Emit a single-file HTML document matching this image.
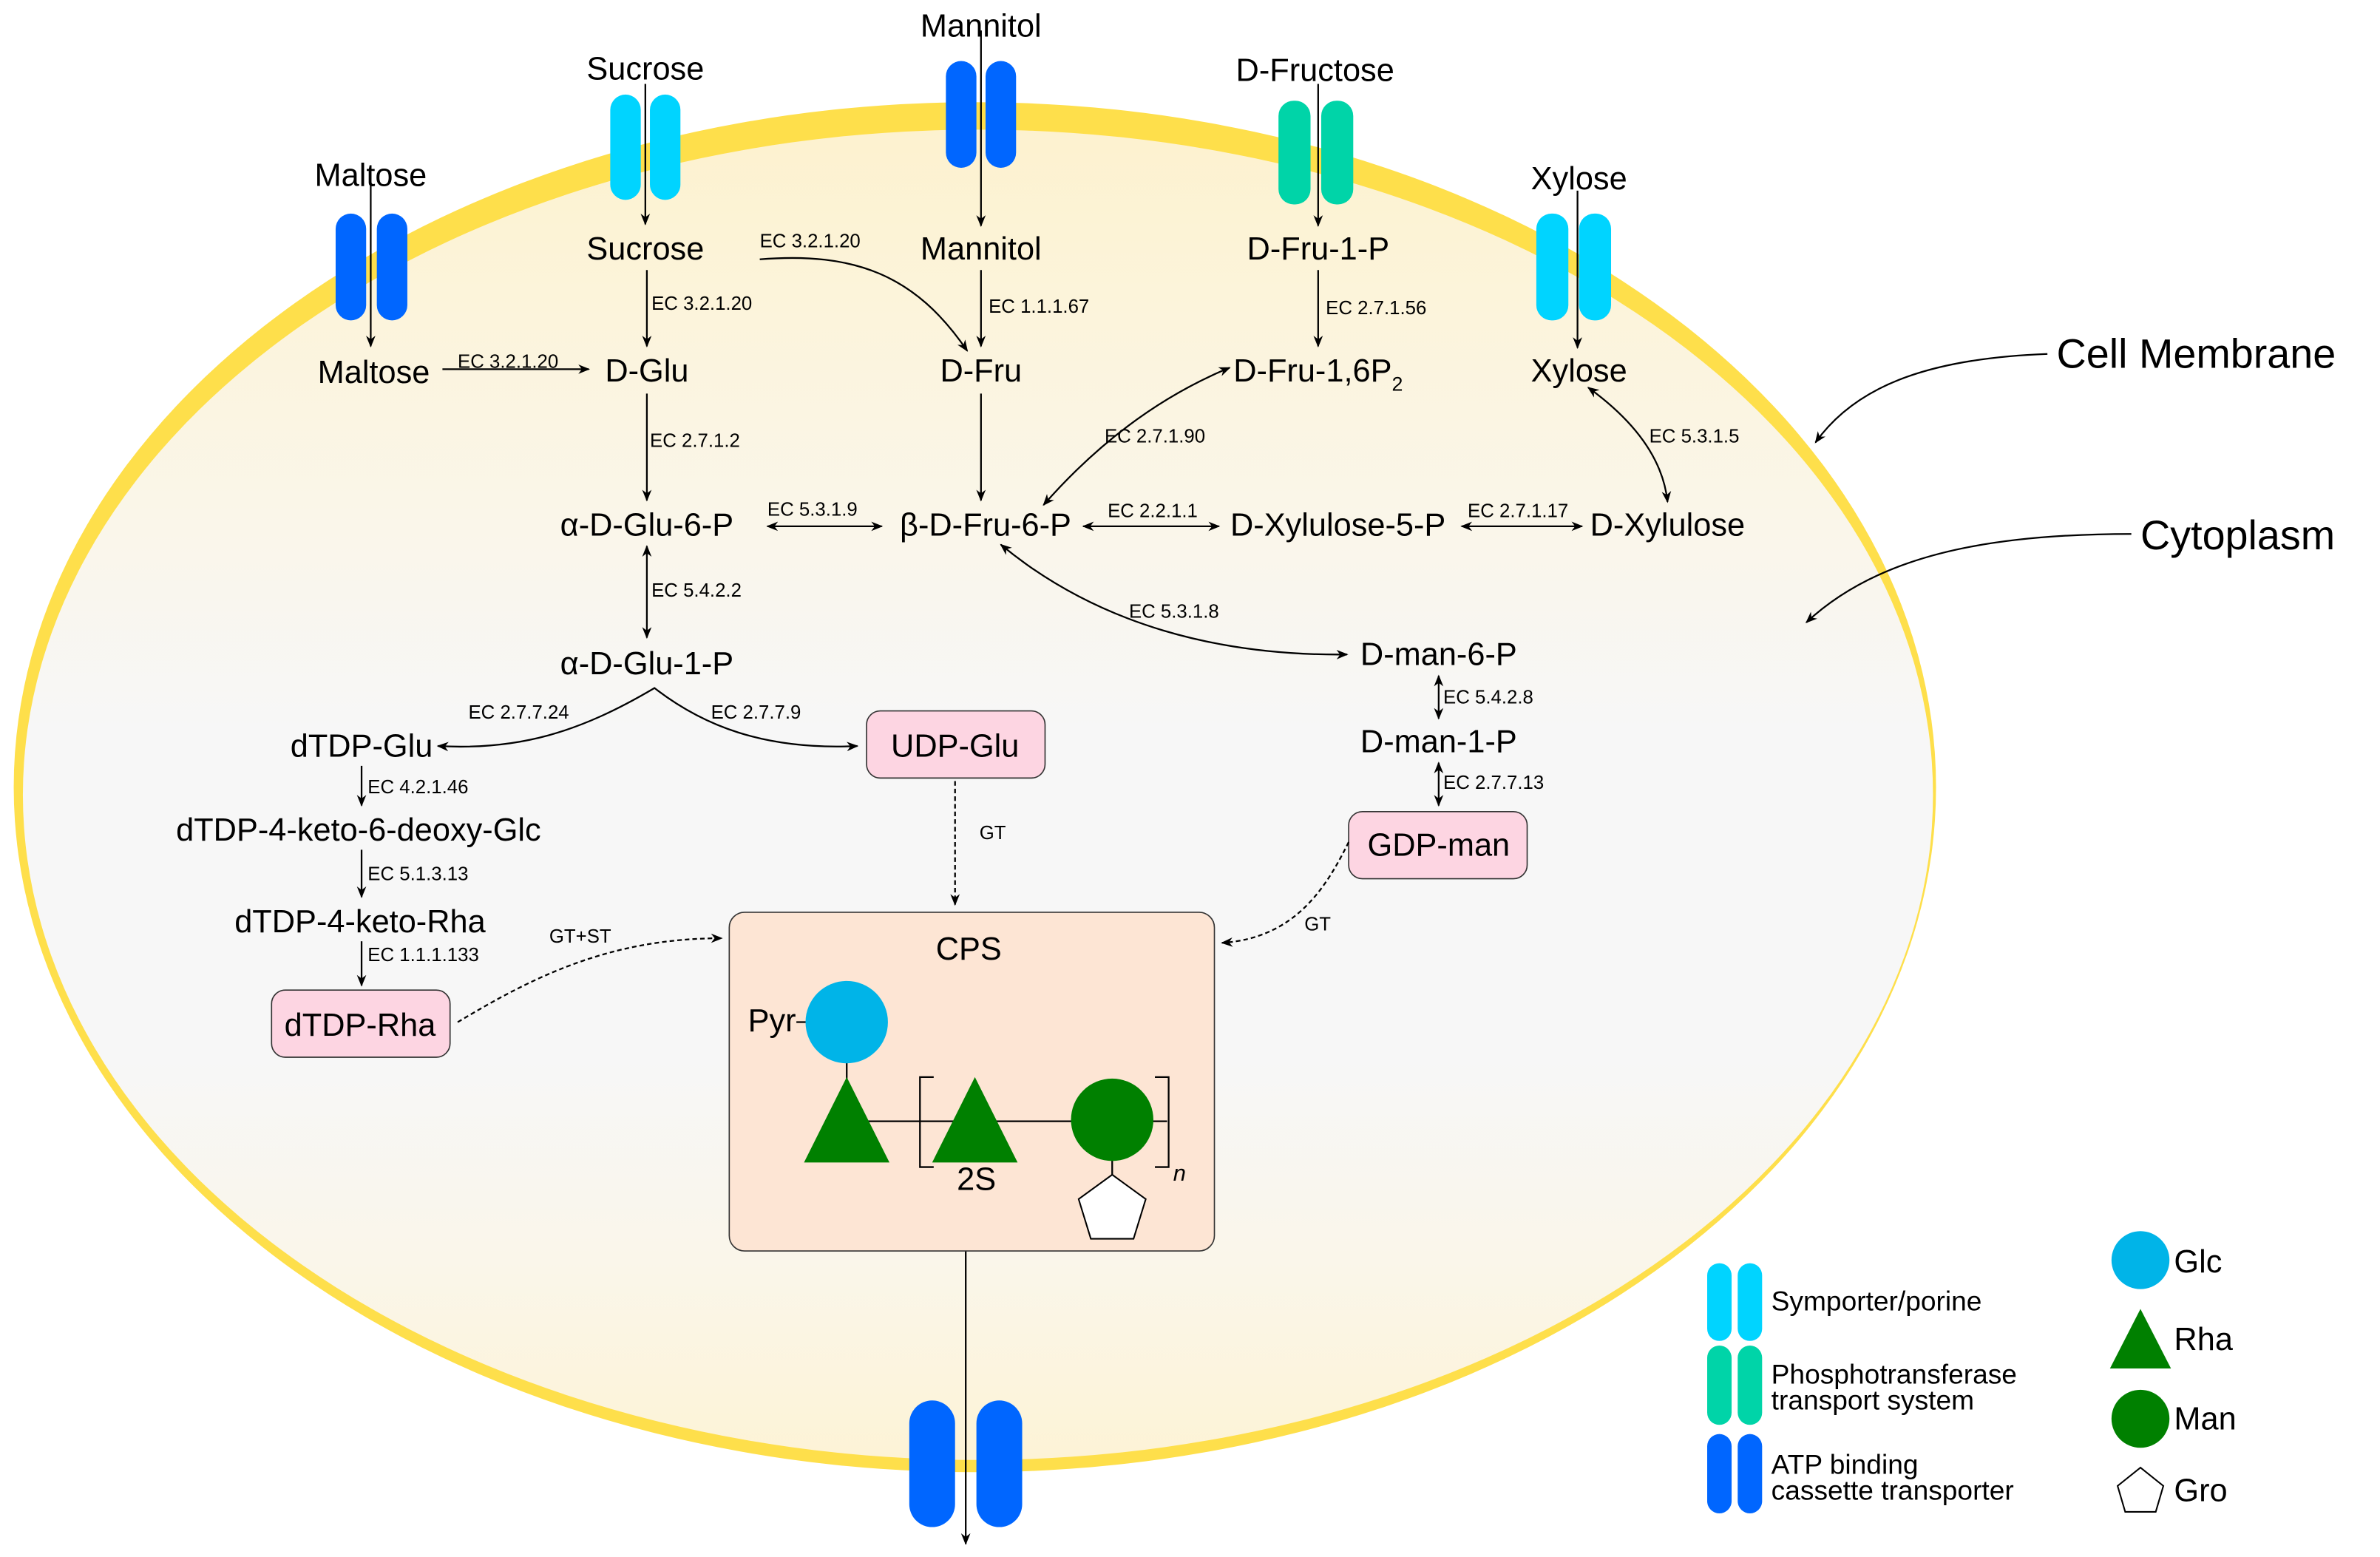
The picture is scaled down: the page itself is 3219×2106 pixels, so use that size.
<!DOCTYPE html>
<html><head><meta charset="utf-8"><style>
html,body{margin:0;padding:0;background:#fff;}
svg{display:block;}
text{font-family:"Liberation Sans",Arial,sans-serif;fill:#000;}
.n{font-size:21px;text-anchor:middle;}
.e{font-size:12.5px;}
.l{stroke:#000;stroke-width:1.1;fill:none;}
</style></head><body>
<svg width="3219" height="2106" viewBox="0 0 1560 1020.6" preserveAspectRatio="none" xmlns="http://www.w3.org/2000/svg">
<defs>
<marker id="a" viewBox="0 0 10 10" refX="9" refY="5" markerWidth="7" markerHeight="7" orient="auto-start-reverse"><path d="M0,1 L10,5 L0,9 L3,5 z" fill="#000"/></marker>
<linearGradient id="g" x1="0" y1="0" x2="0" y2="1">
<stop offset="0" stop-color="#fdf2cf"/><stop offset="0.3" stop-color="#faf6ea"/><stop offset="0.45" stop-color="#f7f7f7"/><stop offset="0.7" stop-color="#f7f7f7"/><stop offset="0.85" stop-color="#faf6ea"/><stop offset="1" stop-color="#fdf3d6"/></linearGradient>
</defs>
<ellipse cx="639" cy="516" rx="630" ry="449" fill="#fedf4b"/>
<ellipse cx="641" cy="521" rx="626" ry="436" fill="url(#g)"/>

<!-- transporters -->
<g>
<rect x="220" y="140" width="20" height="70" rx="10" fill="#0066ff"/><rect x="247" y="140" width="20" height="70" rx="10" fill="#0066ff"/>
<rect x="400" y="62" width="20" height="69" rx="10" fill="#00d4ff"/><rect x="426" y="62" width="20" height="69" rx="10" fill="#00d4ff"/>
<rect x="620" y="40" width="20" height="70" rx="10" fill="#0066ff"/><rect x="646" y="40" width="20" height="70" rx="10" fill="#0066ff"/>
<rect x="838" y="66" width="21" height="68" rx="10" fill="#00d4a8"/><rect x="866" y="66" width="21" height="68" rx="10" fill="#00d4a8"/>
<rect x="1007" y="140" width="21" height="70" rx="10" fill="#00d4ff"/><rect x="1035" y="140" width="21" height="70" rx="10" fill="#00d4ff"/>
<rect x="596" y="918" width="30" height="83" rx="15" fill="#0066ff"/><rect x="640" y="918" width="30" height="83" rx="15" fill="#0066ff"/>
</g>

<!-- outside labels -->
<text class="n" x="243" y="122">Maltose</text>
<text class="n" x="423" y="52">Sucrose</text>
<text class="n" x="643" y="24">Mannitol</text>
<text class="n" x="862" y="53">D-Fructose</text>
<text class="n" x="1035" y="124">Xylose</text>

<!-- nodes -->
<text class="n" x="423" y="170">Sucrose</text>
<text class="n" x="643" y="170">Mannitol</text>
<text class="n" x="864" y="170">D-Fru-1-P</text>
<text class="n" x="245" y="251">Maltose</text>
<text class="n" x="424" y="250">D-Glu</text>
<text class="n" x="643" y="250">D-Fru</text>
<text class="n" x="864" y="250">D-Fru-1,6P<tspan font-size="13" dy="6">2</tspan></text>
<text class="n" x="1035" y="250">Xylose</text>
<text class="n" x="424" y="351">α-D-Glu-6-P</text>
<text class="n" x="646" y="351">β-D-Fru-6-P</text>
<text class="n" x="877" y="351">D-Xylulose-5-P</text>
<text class="n" x="1093" y="351">D-Xylulose</text>
<text class="n" x="424" y="442">α-D-Glu-1-P</text>
<text class="n" x="943" y="436">D-man-6-P</text>
<text class="n" x="943" y="493">D-man-1-P</text>
<text class="n" x="237" y="496">dTDP-Glu</text>
<text class="n" x="235" y="551">dTDP-4-keto-6-deoxy-Glc</text>
<text class="n" x="236" y="611">dTDP-4-keto-Rha</text>

<rect x="568" y="466" width="117" height="44" rx="9" fill="#fdd5e2" stroke="#333" stroke-width="0.8"/>
<text class="n" x="626" y="496">UDP-Glu</text>
<rect x="178" y="649" width="117" height="44" rx="9" fill="#fdd5e2" stroke="#333" stroke-width="0.8"/>
<text class="n" x="236" y="679">dTDP-Rha</text>
<rect x="884" y="532" width="117" height="44" rx="9" fill="#fdd5e2" stroke="#333" stroke-width="0.8"/>
<text class="n" x="943" y="561">GDP-man</text>

<!-- arrows -->
<g class="l" marker-end="url(#a)">
<line x1="243" y1="120" x2="243" y2="227"/>
<line x1="423" y1="55" x2="423" y2="147"/>
<line x1="643" y1="20" x2="643" y2="148"/>
<line x1="864" y1="55" x2="864" y2="148"/>
<line x1="1034" y1="125" x2="1034" y2="228"/>
<line x1="424" y1="177" x2="424" y2="227"/>
<line x1="643" y1="177" x2="643" y2="227"/>
<line x1="864" y1="177" x2="864" y2="227"/>
<line x1="424" y1="258" x2="424" y2="328"/>
<line x1="643" y1="258" x2="643" y2="328"/>
<line x1="237" y1="502" x2="237" y2="528"/>
<line x1="237" y1="557" x2="237" y2="588"/>
<line x1="237" y1="617" x2="237" y2="646"/>
<line x1="633" y1="820" x2="633" y2="1012"/>
<path d="M498,170 C560,165 600,180 634,230"/>
</g>
<line class="l" x1="290" y1="242" x2="386" y2="242" marker-end="url(#a)"/>
<g class="l" marker-start="url(#a)" marker-end="url(#a)">
<line x1="503" y1="345" x2="578" y2="345"/>
<line x1="424" y1="358" x2="424" y2="418"/>
<line x1="710" y1="345" x2="799" y2="345"/>
<line x1="958" y1="345" x2="1037" y2="345"/>
<line x1="943" y1="443" x2="943" y2="471"/>
<path d="M684,331 C720,290 760,260 806,241"/>
<path d="M1041,254 C1070,275 1090,300 1093,329"/>
<path d="M656,357 C720,410 800,430 883,429"/>
<path d="M287,489 C340,492 380,480 429,451 C460,475 500,492 562,489"/>
</g>
<line class="l" x1="943" y1="500" x2="943" y2="528" marker-end="url(#a)" marker-start="url(#a)"/>

<!-- EC labels -->
<text class="e" x="498" y="162">EC 3.2.1.20</text>
<text class="e" x="427" y="203">EC 3.2.1.20</text>
<text class="e" x="648" y="205">EC 1.1.1.67</text>
<text class="e" x="869" y="206">EC 2.7.1.56</text>
<text class="e" x="300" y="241">EC 3.2.1.20</text>
<text class="e" x="426" y="293">EC 2.7.1.2</text>
<text class="e" x="724" y="290">EC 2.7.1.90</text>
<text class="e" x="1081" y="290">EC 5.3.1.5</text>
<text class="e" x="503" y="338">EC 5.3.1.9</text>
<text class="e" x="726" y="339">EC 2.2.1.1</text>
<text class="e" x="962" y="339">EC 2.7.1.17</text>
<text class="e" x="427" y="391">EC 5.4.2.2</text>
<text class="e" x="740" y="405">EC 5.3.1.8</text>
<text class="e" x="307" y="471">EC 2.7.7.24</text>
<text class="e" x="466" y="471">EC 2.7.7.9</text>
<text class="e" x="946" y="461">EC 5.4.2.8</text>
<text class="e" x="946" y="517">EC 2.7.7.13</text>
<text class="e" x="241" y="520">EC 4.2.1.46</text>
<text class="e" x="241" y="577">EC 5.1.3.13</text>
<text class="e" x="241" y="630">EC 1.1.1.133</text>
<text class="e" x="642" y="550" font-size="13">GT</text>
<text class="e" x="855" y="610" font-size="13">GT</text>
<text class="e" x="360" y="618" font-size="13">GT+ST</text>

<!-- dashed connectors -->
<g class="l" stroke-dasharray="3,2" marker-end="url(#a)">
<line x1="626" y1="512" x2="626" y2="593"/>
<path d="M884,552 C870,580 850,615 801,618"/>
<path d="M300,670 C350,640 400,615 473,615"/>
</g>

<!-- CPS -->
<rect x="478" y="598" width="318" height="222" rx="10" fill="#fde5d4" stroke="#333" stroke-width="0.8"/>
<text class="n" x="635" y="629" font-size="25">CPS</text>
<text class="n" x="506" y="676">Pyr</text>
<line class="l" x1="522" y1="670" x2="532" y2="670"/>
<line class="l" x1="555" y1="690" x2="555" y2="735"/>
<line class="l" x1="555" y1="735" x2="765" y2="735"/>
<line class="l" x1="729" y1="740" x2="729" y2="775"/>
<circle cx="555" cy="670" r="27" fill="#00b4e8"/>
<polygon points="555,706 583,762 527,762" fill="#008000"/>
<polygon points="639,706 667,762 611,762" fill="#008000"/>
<circle cx="729" cy="734" r="27" fill="#008000"/>
<path class="l" d="M612,706 L603,706 L603,765 L612,765"/>
<path class="l" d="M757,706 L766,706 L766,765 L757,765"/>
<text class="n" x="640" y="780">2S</text>
<text x="769" y="774" font-size="15" font-style="italic">n</text>
<polygon points="729,770 751,786 743,812 715,812 707,786" fill="#fff" stroke="#000" stroke-width="1"/>

<!-- side labels -->
<text x="1348" y="241" font-size="27">Cell Membrane</text>
<path class="l" stroke-width="1.6" d="M1342,232 C1260,235 1215,255 1190,290" marker-end="url(#a)"/>
<text x="1403" y="360" font-size="27">Cytoplasm</text>
<path class="l" stroke-width="1.6" d="M1397,350 C1300,350 1230,365 1184,408" marker-end="url(#a)"/>

<!-- legend -->
<rect x="1119" y="828" width="16" height="51" rx="8" fill="#00d4ff"/><rect x="1139" y="828" width="16" height="51" rx="8" fill="#00d4ff"/>
<rect x="1119" y="882" width="16" height="52" rx="8" fill="#00d4a8"/><rect x="1139" y="882" width="16" height="52" rx="8" fill="#00d4a8"/>
<rect x="1119" y="940" width="16" height="52" rx="8" fill="#0066ff"/><rect x="1139" y="940" width="16" height="52" rx="8" fill="#0066ff"/>
<text x="1161" y="859" font-size="18">Symporter/porine</text>
<text x="1161" y="907" font-size="18">Phosphotransferase</text>
<text x="1161" y="924" font-size="18">transport system</text>
<text x="1161" y="966" font-size="18">ATP binding</text>
<text x="1161" y="983" font-size="18">cassette transporter</text>
<circle cx="1403" cy="826" r="19" fill="#00b4e8"/>
<polygon points="1403,858 1423,897 1383,897" fill="#008000"/>
<circle cx="1403" cy="930" r="19" fill="#008000"/>
<polygon points="1403,962 1418,974 1413,991 1393,991 1388,974" fill="#fff" stroke="#000" stroke-width="1"/>
<text x="1425" y="834" font-size="21">Glc</text>
<text x="1425" y="885" font-size="21">Rha</text>
<text x="1425" y="937" font-size="21">Man</text>
<text x="1425" y="984" font-size="21">Gro</text>
</svg>
</body></html>
